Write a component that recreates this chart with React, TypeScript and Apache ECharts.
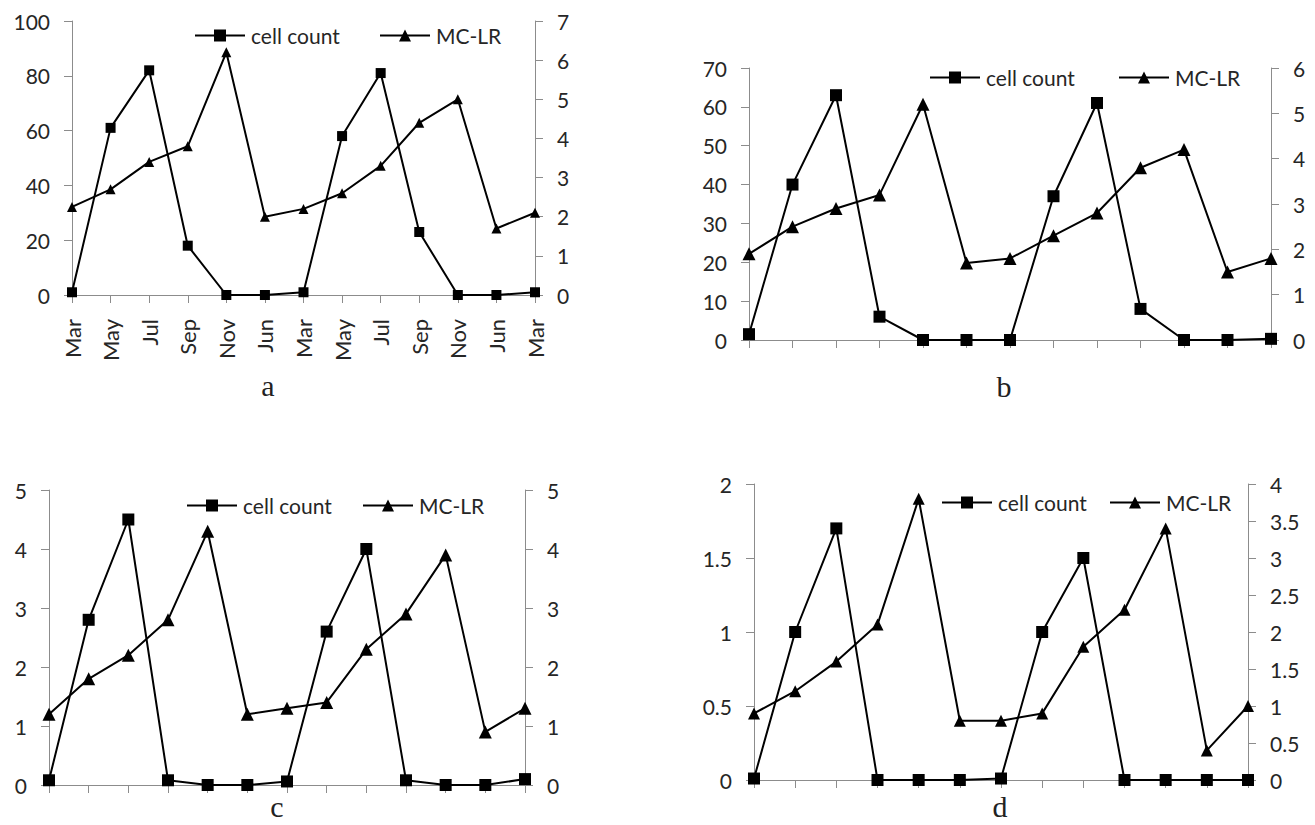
import React, { useEffect, useRef } from "react";
import * as echarts from "echarts";

// ---- data ----
const months = ["Mar", "May", "Jul", "Sep", "Nov", "Jun", "Mar", "May", "Jul", "Sep", "Nov", "Jun", "Mar"];

const cellA = [1, 61, 82, 18, 0, 0, 1, 58, 81, 23, 0, 0, 1];
const mclrA = [2.25, 2.7, 3.4, 3.8, 6.2, 2.0, 2.2, 2.6, 3.3, 4.4, 5.0, 1.7, 2.1];

const cellB = [1.5, 40, 63, 6, 0, 0, 0, 37, 61, 8, 0, 0, 0.3];
const mclrB = [1.9, 2.5, 2.9, 3.2, 5.2, 1.7, 1.8, 2.3, 2.8, 3.8, 4.2, 1.5, 1.8];

const cellC = [0.08, 2.8, 4.5, 0.08, 0, 0, 0.06, 2.6, 4.0, 0.08, 0, 0, 0.1];
const mclrC = [1.2, 1.8, 2.2, 2.8, 4.3, 1.2, 1.3, 1.4, 2.3, 2.9, 3.9, 0.9, 1.3];

const cellD = [0.01, 1.0, 1.7, 0, 0, 0, 0.01, 1.0, 1.5, 0, 0, 0, 0];
const mclrD = [0.9, 1.2, 1.6, 2.1, 3.8, 0.8, 0.8, 0.9, 1.8, 2.3, 3.4, 0.4, 1.0];

const panelLetters = ["a", "b", "c", "d"];
const leftMax = [100, 70, 5, 2];
const leftInterval = [20, 10, 1, 0.5];
const rightMax = [7, 6, 5, 4];
const rightInterval = [1, 1, 1, 0.5];
const cellSeries = [cellA, cellB, cellC, cellD];
const mclrSeries = [mclrA, mclrB, mclrC, mclrD];

// ---- layout (styles, not data) ----
const grids = [
  { left: 72, top: 21, width: 463, height: 274 },
  { left: 749, top: 68, width: 522, height: 272 },
  { left: 49, top: 490, width: 476, height: 295 },
  { left: 754, top: 484, width: 494, height: 296 },
];
const legendPos = [
  { cellLeft: 194, mcLeft: 379, cy: 35 },
  { cellLeft: 929, mcLeft: 1118, cy: 77 },
  { cellLeft: 186, mcLeft: 362, cy: 505 },
  { cellLeft: 941, mcLeft: 1109, cy: 502 },
];
const subtitlePos = [
  { x: 268, y: 385 },
  { x: 1004, y: 386 },
  { x: 277, y: 806 },
  { x: 1000, y: 806 },
];
const sqSize = [10, 12, 12, 12];
const triSize = [10, 13, 13, 12];

const FONT = "Lato";
const AXIS = "#8c8c8c";
const TEXT = "#262626";

export default function App() {
  const ref = useRef<HTMLDivElement>(null);

  useEffect(() => {
    if (!ref.current) return;
    const chart = echarts.init(ref.current, undefined, { renderer: "svg" });

    const xAxis: any[] = [];
    const yAxis: any[] = [];
    const series: any[] = [];
    const legend: any[] = [];
    const graphic: any[] = [];

    for (let i = 0; i < 4; i++) {
      xAxis.push({
        type: "category",
        gridIndex: i,
        data: months,
        boundaryGap: false,
        axisLine: { show: true, lineStyle: { color: AXIS, width: 1 } },
        axisTick: { show: true, length: 8, interval: 0, lineStyle: { color: AXIS } },
        axisLabel: {
          show: i === 0,
          rotate: 90,
          interval: 0,
          margin: 24,
          fontFamily: FONT,
          fontSize: 22,
          color: TEXT,
        },
        splitLine: { show: false },
      });
      const yBase = {
        type: "value",
        gridIndex: i,
        min: 0,
        axisLine: { show: true, lineStyle: { color: AXIS, width: 1 } },
        axisTick: { show: true, length: 8, lineStyle: { color: AXIS } },
        splitLine: { show: false },
      };
      yAxis.push({
        ...yBase,
        position: "left",
        max: leftMax[i],
        interval: leftInterval[i],
        axisLabel: { margin: 22, fontFamily: FONT, fontSize: 21, color: TEXT },
      });
      yAxis.push({
        ...yBase,
        position: "right",
        max: rightMax[i],
        interval: rightInterval[i],
        axisLabel: { margin: 22, fontFamily: FONT, fontSize: 21, color: TEXT },
      });
      series.push({
        type: "line",
        name: "cell count",
        xAxisIndex: i,
        yAxisIndex: 2 * i,
        data: cellSeries[i],
        symbol: "rect",
        symbolSize: sqSize[i],
        color: "#000",
        lineStyle: { color: "#000", width: 2 },
        itemStyle: { color: "#000" },
        z: 3,
      });
      series.push({
        type: "line",
        name: "MC-LR",
        xAxisIndex: i,
        yAxisIndex: 2 * i + 1,
        data: mclrSeries[i],
        symbol: "triangle",
        symbolSize: triSize[i],
        color: "#000",
        lineStyle: { color: "#000", width: 2 },
        itemStyle: { color: "#000" },
        z: 2,
      });
      const lp = legendPos[i];
      const legBase = {
        padding: 0,
        itemWidth: 50,
        itemHeight: 15,
        itemGap: 0,
        selectedMode: false,
        top: lp.cy - 10,
        textStyle: { fontFamily: FONT, fontSize: 21, color: TEXT, padding: [0, 0, 0, 1] },
      };
      legend.push({ ...legBase, left: lp.cellLeft, data: ["cell count"] });
      legend.push({ ...legBase, left: lp.mcLeft, data: ["MC-LR"] });

      graphic.push({
        type: "text",
        x: subtitlePos[i].x,
        y: subtitlePos[i].y,
        style: {
          text: panelLetters[i],
          font: '30px "Liberation Serif"',
          fill: "#222",
          align: "center",
          verticalAlign: "middle",
        },
      });
    }

    chart.setOption({
      animation: false,
      backgroundColor: "#fff",
      grid: grids.map((g) => ({ ...g, containLabel: false })),
      xAxis,
      yAxis,
      series,
      legend,
      graphic,
    });

    return () => chart.dispose();
  }, []);

  return (
    <div
      ref={ref}
      style={{ position: "fixed", left: 0, top: 0, width: 1315, height: 825, background: "#fff" }}
    />
  );
}
